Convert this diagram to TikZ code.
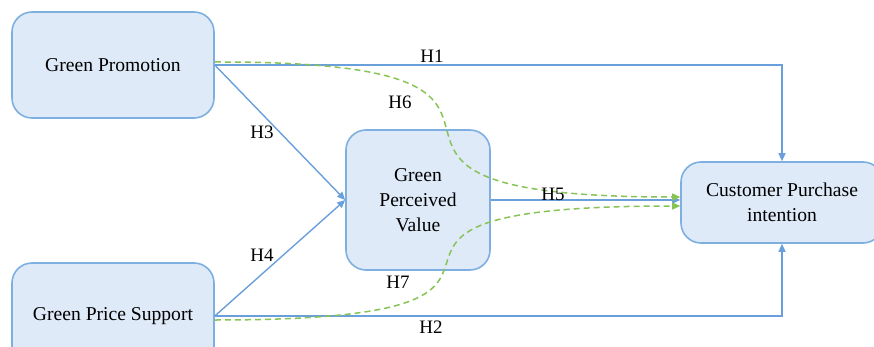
\documentclass[tikz,border=0pt]{standalone}
\usepackage{fontspec}
\setmainfont{Liberation Serif}
\usetikzlibrary{arrows.meta}
\definecolor{boxfill}{RGB}{222,234,247}
\definecolor{boxline}{RGB}{125,175,225}
\definecolor{linkblue}{RGB}{105,160,220}
\definecolor{dashgreen}{RGB}{135,195,85}
\tikzset{
  box/.style={draw=boxline, fill=boxfill, line width=1.6pt, rounded corners=20pt,
    align=center, font=\fontsize{19.6}{25}\selectfont, inner sep=0pt},
  link/.style={draw=linkblue, line width=1.4pt, -{Triangle[length=8pt,width=7pt]}},
  glink/.style={draw=dashgreen, line width=1.5pt, dash pattern=on 6pt off 4pt,
    -{Triangle[length=8pt,width=7pt]}},
  lab/.style={font=\fontsize{19}{22}\selectfont, inner sep=0pt}
}
\begin{document}
\begin{tikzpicture}[x=1pt,y=-1pt]
\useasboundingbox (0,0) rectangle (874,347);
\clip (0,0) rectangle (874,347);
\node[box, minimum width=202pt, minimum height=106pt] (gp) at (113,65) {Green Promotion};
\node[box, minimum width=202pt, minimum height=106pt] (gps) at (113,316) {\raisebox{2pt}{Green Price Support}};
\node[box, minimum width=144pt, minimum height=140pt] (gpv) at (418,200) {Green\\Perceived\\Value};
\node[box, minimum width=202pt, minimum height=81pt] (cpi) at (782,202.5) {Customer Purchase\\intention};

\draw[link] (gp.east) -| (cpi.north);
\draw[link] (gps.east) -| (cpi.south);
\draw[link] (gp.east) -- (gpv.west);
\draw[link] (gps.east) -- (gpv.west);
\draw[link] (gpv.east) -- (gpv.east -| cpi.west);
\draw[glink] ([yshift=3pt]gp.east) .. controls (640,61) and (255,197) .. ([yshift=5.5pt]cpi.west);
\draw[glink] ([yshift=-4pt]gps.east) .. controls (640,320) and (255,206) .. ([yshift=-3.5pt]cpi.west);

\node[lab] (h1) at (432,56) {H1};
\node[lab] (h2) at (431,327) {H2};
\node[lab] (h3) at (262,132) {H3};
\node[lab] (h4) at (262,255) {H4};
\node[lab] (h5) at (553,194) {H5};
\node[lab] (h6) at (400,102) {H6};
\node[lab] (h7) at (398,282) {H7};
\end{tikzpicture}
\end{document}
